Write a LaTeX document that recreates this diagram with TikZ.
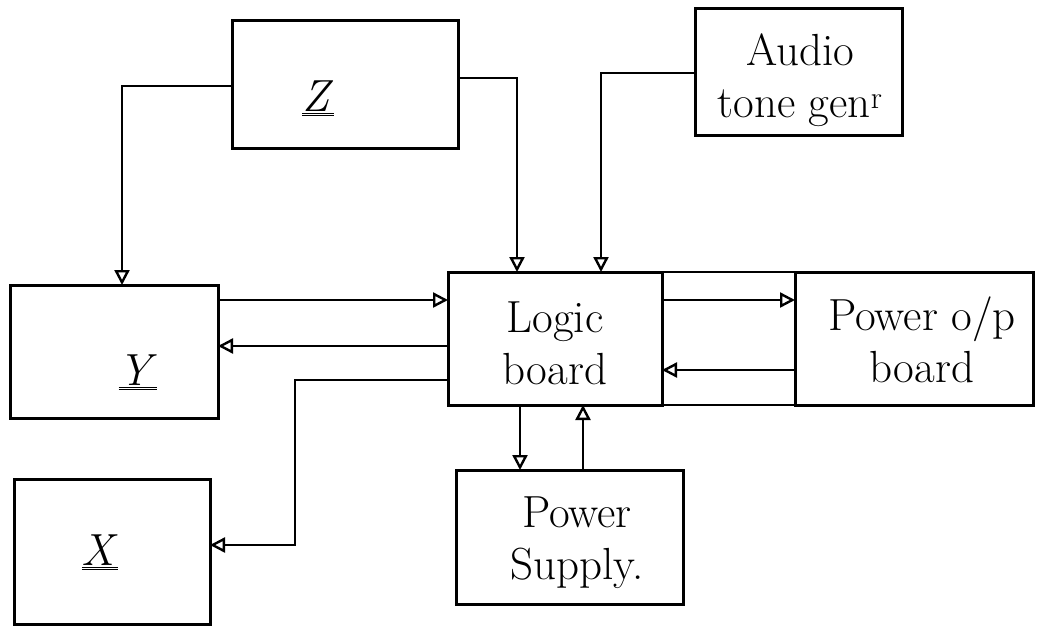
\documentclass[tikz,border=0pt]{standalone}
\usetikzlibrary{arrows.meta}
\begin{document}
\begin{tikzpicture}[x=1pt,y=-1pt,
  box/.style={draw, line width=3pt, inner sep=0pt, outer sep=0pt, rectangle},
  lbl/.style={font=\fontsize{45}{52}\selectfont, align=center, inner sep=0pt},
  arr/.style={line width=2.4pt, -{Triangle[open, length=15pt, width=15pt, line width=2.4pt]}},
  ln/.style={line width=2.4pt}]
\useasboundingbox (0,0) rectangle (1037,627);
% boxes
\node[box, minimum width=226pt, minimum height=128pt] (z) at (345,84) {};
\node[box, minimum width=207pt, minimum height=127pt] (aud) at (798.5,71.5) {};
\node[box, minimum width=208pt, minimum height=133pt] (y) at (114,351.5) {};
\node[box, minimum width=196pt, minimum height=145pt] (x) at (112,552) {};
\node[box, minimum width=214pt, minimum height=133pt] (lb) at (555,338.5) {};
\node[box, minimum width=238pt, minimum height=133pt] (pob) at (914,338.5) {};
\node[box, minimum width=227pt, minimum height=134pt] (ps) at (569.5,537) {};
% labels
\node[lbl] (zt) at (318,98) {\underline{\underline{\textit{Z}}}};
\node[lbl] (yt) at (138,372) {\underline{\underline{\textit{Y}}}};
\node[lbl] (xt) at (100,552) {\underline{\underline{\textit{X}}}};
\node[lbl] (audt) at (800,80) {Audio\\tone gen\textsuperscript{r}};
\node[lbl] (lbt) at (555,343) {Logic\\board};
\node[lbl] (pobt) at (922,340) {Power o/p\\board};
\node[lbl] (pst) at (577,543) {Power\\Supply.};
% joining lines between logic board and power o/p board
\draw[ln] (lb.north east) -- (pob.north west);
\draw[ln] (lb.south east) -- (pob.south west);
% connectors
\coordinate (c1) at (122,86);
\draw[arr] (z.west |- c1) -- (c1) -- (c1 |- y.north);
\coordinate (c2) at (517,78);
\draw[arr] (z.east |- c2) -- (c2) -- (c2 |- lb.north);
\coordinate (c3) at (601,73);
\draw[arr] (aud.west |- c3) -- (c3) -- (c3 |- lb.north);
\coordinate (c4) at (0,300);
\draw[arr] (y.east |- c4) -- (lb.west |- c4);
\coordinate (c5) at (0,346);
\draw[arr] (lb.west |- c5) -- (y.east |- c5);
\coordinate (c6) at (295,380);
\coordinate (c7) at (295,545);
\draw[arr] (lb.west |- c6) -- (c6) -- (c7) -- (x.east |- c7);
\coordinate (c8) at (0,300);
\draw[arr] (lb.east |- c8) -- (pob.west |- c8);
\coordinate (c9) at (0,370);
\draw[arr] (pob.west |- c9) -- (lb.east |- c9);
\coordinate (c10) at (520,0);
\draw[arr] (lb.south -| c10) -- (ps.north -| c10);
\coordinate (c11) at (583,0);
\draw[arr] (ps.north -| c11) -- (lb.south -| c11);
\end{tikzpicture}
\end{document}
